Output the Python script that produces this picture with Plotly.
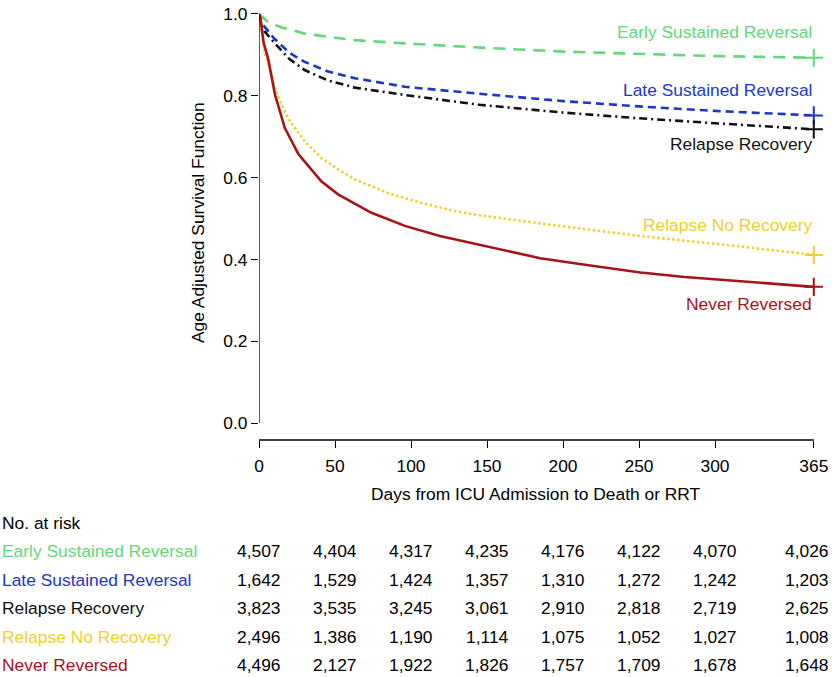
import plotly.graph_objects as go

# ---------------- data ----------------
groups = ["Early Sustained Reversal", "Late Sustained Reversal", "Relapse Recovery",
          "Relapse No Recovery", "Never Reversed"]
colors = ["#63D87A", "#1E36C8", "#111111", "#F0CF2E", "#A8121A"]

early_t = [0, 6, 15, 30, 50, 63, 96, 129, 150, 200, 250, 300, 365]
early_s = [1.0, 0.98, 0.967, 0.952, 0.942, 0.936, 0.928, 0.921, 0.917, 0.908, 0.902, 0.897, 0.893]

late_t = [0, 1, 3, 10, 20, 30, 45, 63, 96, 129, 145, 200, 250, 300, 365]
late_s = [1.0, 0.978, 0.972, 0.94, 0.905, 0.883, 0.86, 0.843, 0.822, 0.81, 0.805, 0.787, 0.774, 0.763, 0.752]

relrec_t = [0, 1, 4, 10.5, 20, 30, 45, 63, 96, 129, 145, 200, 250, 300, 365]
relrec_s = [1.0, 0.975, 0.956, 0.928, 0.89, 0.863, 0.838, 0.82, 0.802, 0.786, 0.778, 0.759, 0.745, 0.733, 0.718]

relnorec_t = [0, 2, 4, 7, 10.5, 19, 30, 41, 52, 63, 85, 107, 129, 145, 185, 251, 316, 365]
relnorec_s = [1.0, 0.95, 0.90, 0.867, 0.818, 0.745, 0.689, 0.648, 0.62, 0.596, 0.562, 0.538, 0.518,
              0.508, 0.488, 0.457, 0.432, 0.411]

never_t = [0, 1, 3, 6, 10.5, 17, 26, 41, 52, 74, 96, 119, 145, 185, 211, 251, 280, 316, 343, 365]
never_s = [1.0, 0.99, 0.93, 0.891, 0.803, 0.721, 0.657, 0.591, 0.559, 0.514, 0.482, 0.457, 0.436,
           0.403, 0.389, 0.368, 0.357, 0.347, 0.34, 0.333]

series_t = [early_t, late_t, relrec_t, relnorec_t, never_t]
series_s = [early_s, late_s, relrec_s, relnorec_s, never_s]
dashes = ["12px,8px", "8px,5px", "8px,4px,2px,4px", "2.5px,2.5px", "solid"]

x_ticks = [0, 50, 100, 150, 200, 250, 300, 365]
y_ticks = [0.0, 0.2, 0.4, 0.6, 0.8, 1.0]
y_ticktext = ["0.0", "0.2", "0.4", "0.6", "0.8", "1.0"]

at_risk = [
    [4507, 4404, 4317, 4235, 4176, 4122, 4070, 4026],
    [1642, 1529, 1424, 1357, 1310, 1272, 1242, 1203],
    [3823, 3535, 3245, 3061, 2910, 2818, 2719, 2625],
    [2496, 1386, 1190, 1114, 1075, 1052, 1027, 1008],
    [4496, 2127, 1922, 1826, 1757, 1709, 1678, 1648],
]
label_y = [0.955, 0.814, 0.683, 0.484, 0.291]

# ---------------- layout geometry ----------------
W, H = 832, 677
ML, MR, MT, MB = 259, 12, 4, 237
PW, PH = W - ML - MR, H - MT - MB
FONT = "Liberation Sans, Arial, Helvetica, sans-serif"
FS = 17.4


def yval(py):
    return (423 - py) / 411.0


def xval(px):
    return (px - 259) / 1.52


def ppy(py):
    return (H - MB - py) / PH


def ppx(px):
    return (px - ML) / PW


fig = go.Figure()
for name, t, s, c, d in zip(groups, series_t, series_s, colors, dashes):
    fig.add_trace(go.Scatter(x=t, y=s, mode="lines", name=name,
                             line=dict(color=c, width=2.6, dash=d), showlegend=False,
                             hoverinfo="skip"))
    fig.add_trace(go.Scatter(x=[t[-1]], y=[s[-1]], mode="markers", showlegend=False,
                             marker=dict(symbol="cross-thin", size=13,
                                         line=dict(color=c, width=2)),
                             cliponaxis=False, hoverinfo="skip"))

annotations = []
for name, c, ly in zip(groups, colors, label_y):
    annotations.append(dict(x=365, y=ly, xref="x", yref="y", text=name, showarrow=False,
                            xanchor="right", yanchor="middle",
                            font=dict(family=FONT, size=FS, color=c)))
annotations.append(dict(x=182.5, y=ppy(494), xref="x", yref="paper",
                        text="Days from ICU Admission to Death or RRT", showarrow=False,
                        xanchor="center", yanchor="middle",
                        font=dict(family=FONT, size=FS, color="black")))
annotations.append(dict(x=ppx(198), y=0.5, xref="paper", yref="y domain",
                        text="Age Adjusted Survival Function", showarrow=False, textangle=-90,
                        xanchor="center", yanchor="middle",
                        font=dict(family=FONT, size=FS, color="black")))
annotations.append(dict(x=ppx(0), y=ppy(523), xref="paper", yref="paper", text="No. at risk",
                        showarrow=False, xanchor="left", yanchor="middle",
                        font=dict(family=FONT, size=FS, color="black")))
row_py = [552, 581, 609, 638, 666]
for name, c, row, py in zip(groups, colors, at_risk, row_py):
    annotations.append(dict(x=ppx(0), y=ppy(py), xref="paper", yref="paper", text=name,
                            showarrow=False, xanchor="left", yanchor="middle",
                            font=dict(family=FONT, size=FS, color=c)))
    for i, (tx, v) in enumerate(zip(x_ticks, row)):
        annotations.append(dict(x=tx, y=ppy(py), xref="x", yref="paper", text=f"{v:,}",
                                showarrow=False, xanchor="center", yanchor="middle",
                                xshift=-7 if i == len(row) - 1 else 0,
                                font=dict(family=FONT, size=FS, color="black")))

shapes = [
    dict(type="line", xref="x", yref="y", x0=0, x1=0, y0=0, y1=1.0,
         line=dict(color="black", width=1.3)),
    dict(type="line", xref="x", yref="paper", x0=0, x1=365, y0=0, y1=0,
         line=dict(color="black", width=1.3)),
]

fig.update_layout(
    width=W, height=H, margin=dict(l=ML, r=MR, t=MT, b=MB, pad=0),
    paper_bgcolor="white", plot_bgcolor="white",
    font=dict(family=FONT, size=FS, color="black"),
    annotations=annotations, shapes=shapes,
    xaxis=dict(range=[0, xval(W - MR)], showgrid=False, zeroline=False, showline=False,
               tickmode="array", tickvals=x_ticks, ticktext=[str(v) for v in x_ticks],
               ticks="outside", ticklen=7, tickwidth=1.3, tickcolor="black",
               ticklabelstandoff=3,
               tickfont=dict(family=FONT, size=FS, color="black")),
    yaxis=dict(range=[yval(H - MB), yval(MT)], showgrid=False, zeroline=False, showline=False,
               tickmode="array", tickvals=y_ticks, ticktext=y_ticktext,
               ticks="outside", ticklen=7, tickwidth=1.3, tickcolor="black",
               tickfont=dict(family=FONT, size=FS, color="black")),
)

fig.write_html("out.html", config={"displayModeBar": False},
               post_script="document.body.style.margin='0';document.body.style.overflow='hidden';")
